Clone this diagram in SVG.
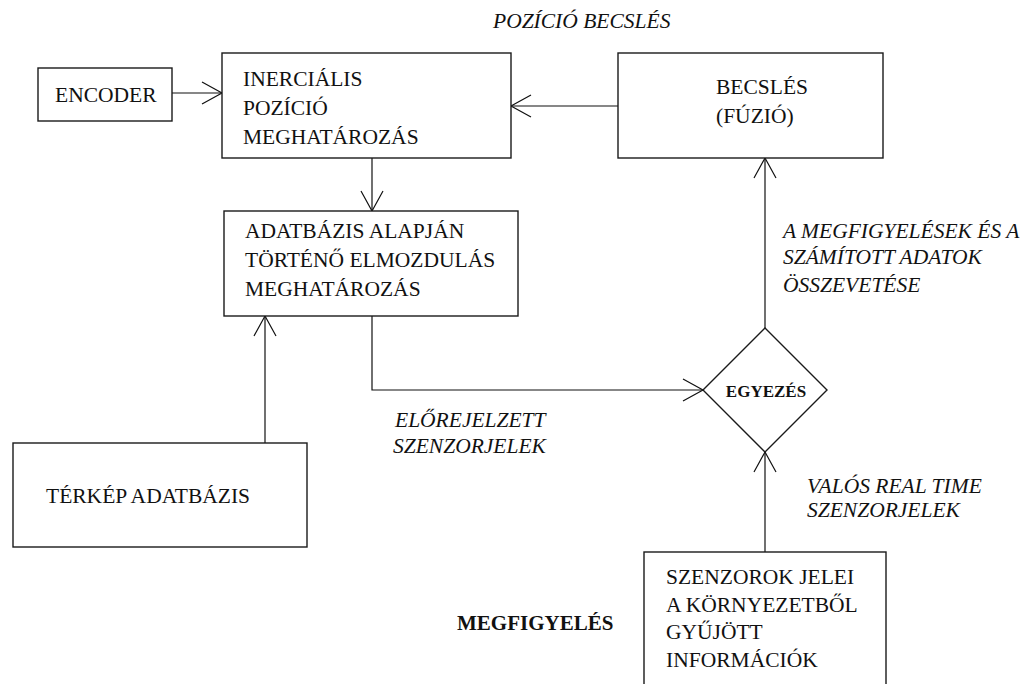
<svg xmlns="http://www.w3.org/2000/svg" width="1025" height="684" viewBox="0 0 1025 684">
<style>
.box{fill:#fff;stroke:#1a1a1a;stroke-width:1.4}
.t{font-family:"Liberation Serif","Times New Roman",serif;font-size:21.5px;fill:#111}
.i{font-family:"Liberation Serif","Times New Roman",serif;font-size:21.5px;font-style:italic;fill:#111}
.b{font-family:"Liberation Serif","Times New Roman",serif;font-weight:bold;fill:#111}
.c{fill:none;stroke:#111;stroke-width:1.2}
</style>
<defs>
<marker id="ah" markerUnits="userSpaceOnUse" markerWidth="24" markerHeight="26" refX="21" refY="12" orient="auto" viewBox="0 0 24 26">
<path d="M1,1 L21,12 L1,23" fill="none" stroke="#111" stroke-width="1.2"/>
</marker>
</defs>
<rect width="1025" height="684" fill="#fff"/>
<g id="connectors">
<line class="c" x1="172" y1="93" x2="222" y2="93" marker-end="url(#ah)"/>
<line class="c" x1="618" y1="106" x2="511" y2="106" marker-end="url(#ah)"/>
<line class="c" x1="372" y1="158" x2="372" y2="211" marker-end="url(#ah)"/>
<line class="c" x1="265" y1="443" x2="265" y2="316" marker-end="url(#ah)"/>
<polyline class="c" points="372,316 372,390 703,390" marker-end="url(#ah)"/>
<line class="c" x1="765" y1="328" x2="765" y2="158" marker-end="url(#ah)"/>
<line class="c" x1="765" y1="552" x2="765" y2="452" marker-end="url(#ah)"/>
</g>
<g id="label-pozicio-becsles"><text class="i" x="493" y="28">POZÍCIÓ BECSLÉS</text></g>
<g id="encoder">
<rect class="box" x="38" y="68" width="134" height="53"/>
<text class="t" x="55" y="102">ENCODER</text>
</g>
<g id="inercialis">
<rect class="box" x="222" y="53" width="289" height="105"/>
<text class="t" x="243" y="86">INERCIÁLIS</text>
<text class="t" x="243" y="115">POZÍCIÓ</text>
<text class="t" x="243" y="144">MEGHATÁROZÁS</text>
</g>
<g id="becsles">
<rect class="box" x="618" y="53" width="265" height="105"/>
<text class="t" x="716" y="94">BECSLÉS</text>
<text class="t" x="716" y="123">(FÚZIÓ)</text>
</g>
<g id="adatbazis">
<rect class="box" x="224" y="211" width="294" height="105"/>
<text class="t" x="245" y="238">ADATBÁZIS ALAPJÁN</text>
<text class="t" x="245" y="267">TÖRTÉNŐ ELMOZDULÁS</text>
<text class="t" x="245" y="296">MEGHATÁROZÁS</text>
</g>
<g id="label-osszevetes">
<text class="i" x="783" y="238">A MEGFIGYELÉSEK ÉS A</text>
<text class="i" x="783" y="264">SZÁMÍTOTT ADATOK</text>
<text class="i" x="783" y="292">ÖSSZEVETÉSE</text>
</g>
<g id="egyezes">
<polygon class="box" points="765,328 827,390 765,452 703,390"/>
<text class="b" x="766" y="397" font-size="17" text-anchor="middle">EGYEZÉS</text>
</g>
<g id="label-elorejelzett">
<text class="i" x="395" y="427">ELŐREJELZETT</text>
<text class="i" x="393" y="453">SZENZORJELEK</text>
</g>
<g id="label-valos">
<text class="i" x="807" y="493">VALÓS REAL TIME</text>
<text class="i" x="807" y="517">SZENZORJELEK</text>
</g>
<g id="terkep">
<rect class="box" x="13" y="443" width="294" height="104"/>
<text class="t" x="46" y="503">TÉRKÉP ADATBÁZIS</text>
</g>
<g id="label-megfigyeles"><text class="b" x="457" y="630" font-size="21">MEGFIGYELÉS</text></g>
<g id="szenzorok">
<rect class="box" x="644" y="552" width="242" height="140"/>
<text class="t" x="666" y="584">SZENZOROK JELEI</text>
<text class="t" x="666" y="612">A KÖRNYEZETBŐL</text>
<text class="t" x="666" y="639">GYŰJÖTT</text>
<text class="t" x="666" y="667">INFORMÁCIÓK</text>
</g>
</svg>
